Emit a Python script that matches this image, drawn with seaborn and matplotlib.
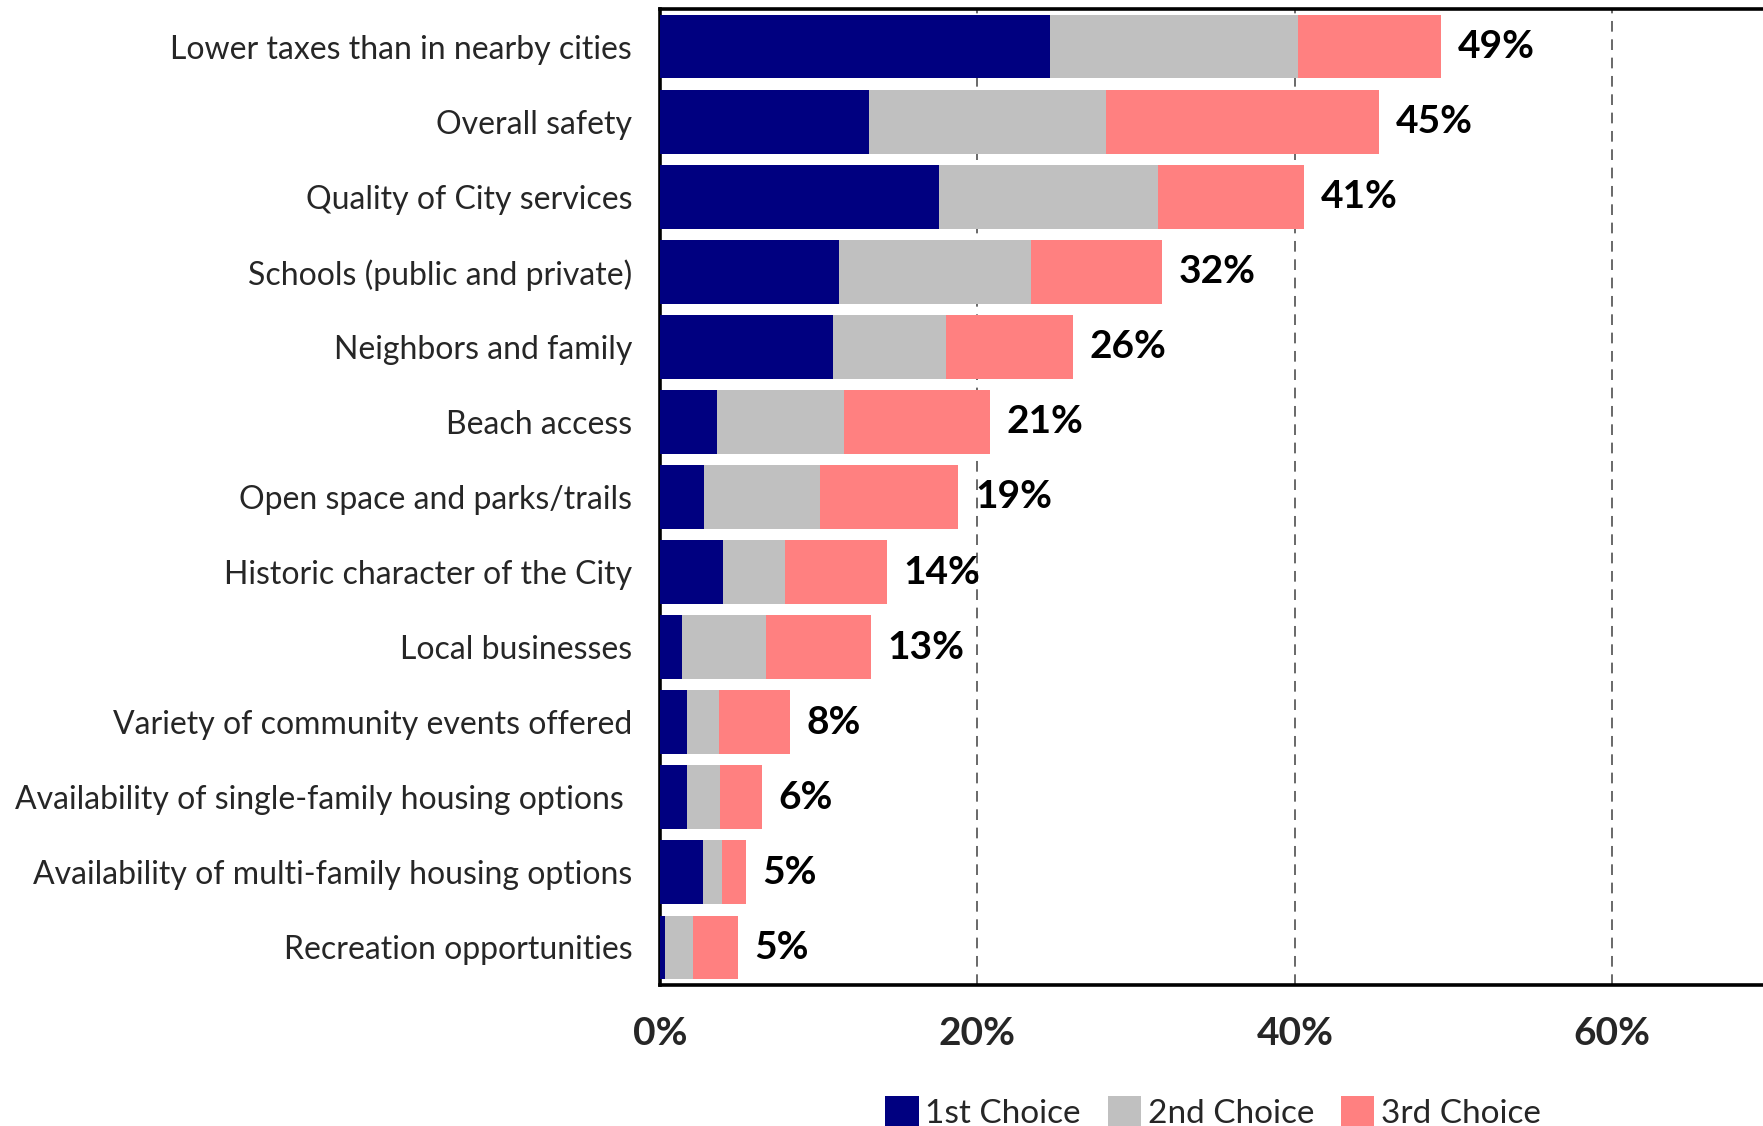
import numpy as np
import pandas as pd
import matplotlib
matplotlib.use('Agg')
import matplotlib.pyplot as plt
from matplotlib.patches import Patch
import seaborn as sns

# データ（%）
categories = [
    'Lower taxes than in nearby cities',
    'Overall safety',
    'Quality of City services',
    'Schools (public and private)',
    'Neighbors and family',
    'Beach access',
    'Open space and parks/trails',
    'Historic character of the City',
    'Local businesses',
    'Variety of community events offered',
    'Availability of single-family housing options ',
    'Availability of multi-family housing options',
    'Recreation opportunities',
]
first_choice = [24.6, 13.2, 17.6, 11.3, 10.9, 3.6, 2.8, 4.0, 1.4, 1.7, 1.7, 2.7, 0.3]
second_choice = [15.6, 14.9, 13.8, 12.1, 7.1, 8.0, 7.3, 3.9, 5.3, 2.0, 2.1, 1.2, 1.8]
third_choice = [9.0, 17.2, 9.2, 8.2, 8.0, 9.2, 8.7, 6.4, 6.6, 4.5, 2.6, 1.5, 2.8]
total_labels = ['49%', '45%', '41%', '32%', '26%', '21%', '19%', '14%', '13%',
                '8%', '6%', '5%', '5%']
series_names = ['1st Choice', '2nd Choice', '3rd Choice']
colors = ['#000080', '#C0C0C0', '#FF8080']
xticks = [0, 20, 40, 60]

sns.set_style('white')
plt.rcParams['font.family'] = ['Lato', 'DejaVu Sans']

df = pd.DataFrame({
    'category': categories,
    'c1': first_choice,
    'c2': second_choice,
    'c3': third_choice,
})
df['cum1'] = df['c1']
df['cum2'] = df['c1'] + df['c2']
df['cum3'] = df['cum2'] + df['c3']

fig = plt.figure(figsize=(17.63, 11.26), dpi=100)
ax = fig.add_axes([660 / 1763, 1 - 985 / 1126, 1 - 660 / 1763, (985 - 9) / 1126])

# 積み上げ棒（後ろから順に重ねる）
for col, c in zip(['cum3', 'cum2', 'cum1'], colors[::-1]):
    sns.barplot(data=df, x=col, y='category', color=c, orient='h',
                width=0.85, ax=ax, saturation=1, edgecolor='none', zorder=3)

# 合計ラベル
for i, (tot, lab) in enumerate(zip(df['cum3'], total_labels)):
    ax.annotate(lab, xy=(tot, i), xytext=(12, 0), textcoords='offset points',
                ha='left', va='center', fontsize=28, fontweight='bold',
                color='black')

ax.set_xlim(0, 69.5)
ax.set_ylim(12.5, -0.5)
ax.set_xticks(xticks)
ax.set_xticklabels([f'{t}%' for t in xticks], fontsize=28, fontweight='bold')
ax.tick_params(axis='x', length=0, pad=22)
ax.tick_params(axis='y', length=0, pad=20, labelsize=23)
ax.set_xlabel('')
ax.set_ylabel('')

ax.xaxis.grid(True, linestyle=(0, (7, 5)), color='#404040', linewidth=1.1, zorder=0)
ax.yaxis.grid(False)
ax.set_axisbelow(True)

for side in ['left', 'bottom', 'top']:
    ax.spines[side].set_visible(True)
    ax.spines[side].set_color('black')
    ax.spines[side].set_linewidth(2.6)
ax.spines['right'].set_visible(False)

handles = [Patch(facecolor=c, edgecolor='none') for c in colors]
fig.legend(handles, series_names, loc='center', bbox_to_anchor=(0.688, 0.012),
           ncol=3, frameon=False, fontsize=24, handlelength=1.0, handleheight=1.0,
           handletextpad=0.2, columnspacing=0.8)

fig.savefig('out.png', dpi=100)
